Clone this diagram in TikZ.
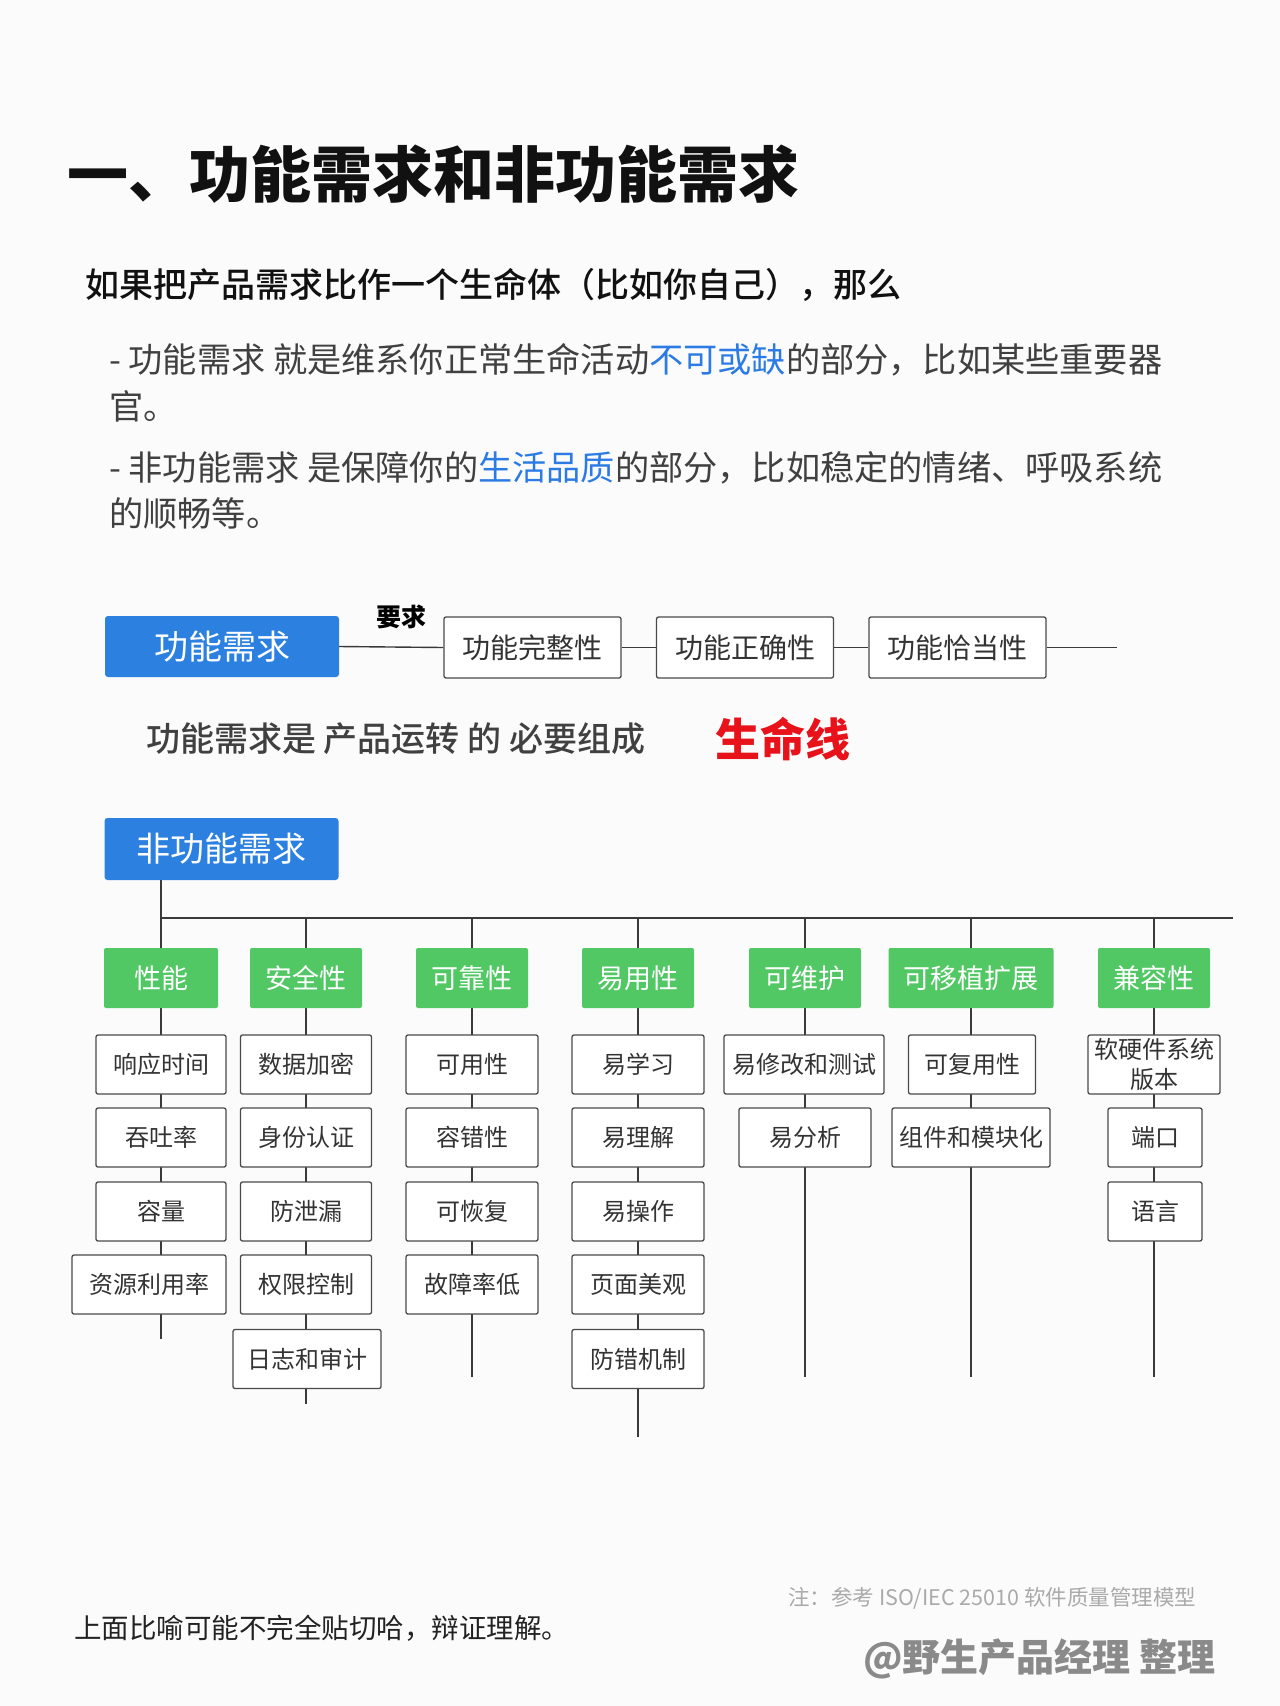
\documentclass[tikz,border=0pt]{standalone}
\usepackage{fontspec}
\setmainfont{Noto Sans CJK SC}
\IfFontExistsTF{Noto Sans CJK SC Medium}
  {\newfontfamily\medfont{Noto Sans CJK SC Medium}}
  {\newcommand\medfont{\bfseries}}
\definecolor{bgc}{HTML}{FBFBFB}
\definecolor{titlec}{HTML}{111111}
\definecolor{bodyc}{HTML}{404040}
\definecolor{txtblue}{HTML}{2C7BE5}
\definecolor{boxblue}{HTML}{2B80E0}
\definecolor{boxgreen}{HTML}{52C865}
\definecolor{boxline}{HTML}{4A4A4A}
\definecolor{subtext}{HTML}{333333}
\definecolor{linec}{HTML}{3A3A3A}
\definecolor{redc}{HTML}{E8121A}
\definecolor{notec}{HTML}{AAAAAA}
\definecolor{markc}{HTML}{8A8A8A}
\definecolor{footc}{HTML}{222222}
\pgfdeclarelayer{bglayer}
\pgfdeclarelayer{linelayer}
\pgfsetlayers{bglayer,linelayer,main}
\newcommand\fz[2]{\fontsize{#1}{#2}\selectfont}
\tikzset{
  conn/.style={draw=linec, line width=1.4pt},
  bluebox/.style={fill=boxblue, rounded corners=3pt, text=white, font=\fz{34}{40}, inner sep=0pt, minimum height=61pt, minimum width=234pt},
  greenbox/.style={fill=boxgreen, rounded corners=2pt, text=white, font=\fz{27}{32}, inner sep=0pt, minimum height=60pt, minimum width=112pt},
  subbox/.style={draw=boxline, line width=1.3pt, fill=white, rounded corners=2pt, text=subtext, font=\fz{24}{30}, inner sep=0pt, minimum height=59pt, minimum width=132pt, align=center},
  funcbox/.style={subbox, font=\fz{28}{34}, minimum height=61pt, minimum width=177pt},
  txt/.style={anchor=west, inner sep=0pt},
}
\begin{document}
\begin{tikzpicture}[x=1pt,y=-1pt]
\begin{pgfonlayer}{bglayer}
\fill[bgc] (0,0) rectangle (1280,1706);
\end{pgfonlayer}
\useasboundingbox (0,0) rectangle (1280,1706);

% heading and text
\node[txt, font=\fz{61}{70}\bfseries, text=titlec] (title) at (67,174) {一、功能需求和非功能需求};
\node[txt, font=\fz{34}{40}\medfont, text=titlec] (intro) at (85,285) {如果把产品需求比作一个生命体（比如你自己），那么};
\node[txt, font=\fz{34.2}{40}, text=bodyc] (l1) at (109,360) {- 功能需求 就是维系你正常生命活动\textcolor{txtblue}{不可或缺}的部分，比如某些重要器};
\node[txt, font=\fz{34.2}{40}, text=bodyc] (l2) at (109,406) {官。};
\node[txt, font=\fz{34.2}{40}, text=bodyc] (l3) at (109,468) {- 非功能需求 是保障你的\textcolor{txtblue}{生活品质}的部分，比如稳定的情绪、呼吸系统};
\node[txt, font=\fz{34.2}{40}, text=bodyc] (l4) at (109,513) {的顺畅等。};

% functional row
\node[bluebox] (fr) at (222,646.5) {功能需求};
\node[funcbox] (f1) at (532.5,647.5) {功能完整性};
\node[funcbox] (f2) at (745,647.5) {功能正确性};
\node[funcbox] (f3) at (957.5,647.5) {功能恰当性};
\coordinate (fend) at (1117,647.5);
\node[font=\fz{25}{30}\bfseries, text=black, inner sep=0pt] (req) at (401,617) {要求};
\begin{pgfonlayer}{linelayer}
\draw[conn] (fr.east) -- (f1.west);
\draw[conn] (f1.east) -- (f2.west);
\draw[conn] (f2.east) -- (f3.west);
\draw[conn] (f3.east) -- (fend);
\end{pgfonlayer}

\node[txt, font=\fz{34}{40}\medfont, text=bodyc] (lifedesc) at (146,739) {功能需求是 产品运转 的 必要组成};
\node[txt, font=\fz{45}{52}\bfseries, text=redc] (lifeline) at (715,739) {生命线};

% non-functional tree
\node[bluebox, minimum height=62pt] (nf) at (221.5,849) {非功能需求};
\coordinate (hend) at (1233,918);

\node[greenbox, minimum width=114pt] (g1) at (161,978) {性能};
\node[greenbox] (g2) at (306,978) {安全性};
\node[greenbox] (g3) at (472,978) {可靠性};
\node[greenbox] (g4) at (638,978) {易用性};
\node[greenbox] (g5) at (805,978) {可维护};
\node[greenbox, minimum width=165pt] (g6) at (971,978) {可移植扩展};
\node[greenbox] (g7) at (1154,978) {兼容性};

% column 1
\node[subbox, minimum width=130pt] (s11) at (161,1064.5) {响应时间};
\node[subbox, minimum width=130pt] (s12) at (161,1137.5) {吞吐率};
\node[subbox, minimum width=130pt] (s13) at (161,1211.5) {容量};
\node[subbox, minimum width=154pt] (s14) at (149,1284.5) {资源利用率};
\coordinate (e1) at (161,1339);
% column 2
\node[subbox, minimum width=131pt] (s21) at (306,1064.5) {数据加密};
\node[subbox, minimum width=131pt] (s22) at (306,1137.5) {身份认证};
\node[subbox, minimum width=131pt] (s23) at (306,1211.5) {防泄漏};
\node[subbox, minimum width=131pt] (s24) at (306,1284.5) {权限控制};
\node[subbox, minimum width=148pt] (s25) at (307,1359) {日志和审计};
\coordinate (e2) at (306,1404);
% column 3
\node[subbox] (s31) at (472,1064.5) {可用性};
\node[subbox] (s32) at (472,1137.5) {容错性};
\node[subbox] (s33) at (472,1211.5) {可恢复};
\node[subbox] (s34) at (472,1284.5) {故障率低};
\coordinate (e3) at (472,1377);
% column 4
\node[subbox] (s41) at (638,1064.5) {易学习};
\node[subbox] (s42) at (638,1137.5) {易理解};
\node[subbox] (s43) at (638,1211.5) {易操作};
\node[subbox] (s44) at (638,1284.5) {页面美观};
\node[subbox] (s45) at (638,1359) {防错机制};
\coordinate (e4) at (638,1437);
% column 5
\node[subbox, minimum width=160pt] (s51) at (804,1064.5) {易修改和测试};
\node[subbox] (s52) at (805,1137.5) {易分析};
\coordinate (e5) at (805,1377);
% column 6
\node[subbox, minimum width=127pt] (s61) at (972,1064.5) {可复用性};
\node[subbox, minimum width=158pt] (s62) at (971,1137.5) {组件和模块化};
\coordinate (e6) at (971,1377);
% column 7
\node[subbox, font=\fz{24}{30}] (s71) at (1154,1064.5) {软硬件系统\\版本};
\node[subbox, minimum width=94pt] (s72) at (1155,1137.5) {端口};
\node[subbox, minimum width=94pt] (s73) at (1155,1211.5) {语言};
\coordinate (e7) at (1154,1377);

\begin{pgfonlayer}{linelayer}
\draw[conn] (nf.south -| g1.center) -- (g1.north);
\draw[conn] (g1.north |- hend) -- (hend);
\foreach \g in {g2,g3,g4,g5,g6,g7}
  \draw[conn] (\g.north |- hend) -- (\g.north);
\draw[conn] (g1.south) -- (e1);
\draw[conn] (g2.south) -- (e2);
\draw[conn] (g3.south) -- (e3);
\draw[conn] (g4.south) -- (e4);
\draw[conn] (g5.south) -- (e5);
\draw[conn] (g6.south) -- (e6);
\draw[conn] (g7.south) -- (e7);
\end{pgfonlayer}

% footer
\node[txt, font=\fz{21.5}{26}, text=notec] (note) at (788,1598) {注：参考 ISO/IEC 25010 软件质量管理模型};
\node[txt, font=\fz{27.5}{32}, text=footc] (foot) at (74,1628) {上面比喻可能不完全贴切哈，辩证理解。};
\node[txt, font=\fz{38}{44}\bfseries, text=markc] (mark) at (863,1659) {@野生产品经理 整理};
\end{tikzpicture}
\end{document}
